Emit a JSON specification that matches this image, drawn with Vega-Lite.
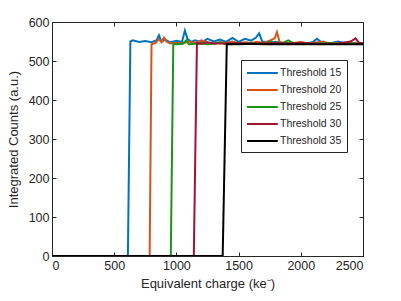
{
  "$schema": "https://vega.github.io/schema/vega-lite/v6.json",
  "width": 311,
  "height": 234,
  "autosize": {"type": "none"},
  "padding": {"left": 52, "top": 22, "right": 38, "bottom": 45},
  "background": "white",
  "config": {
    "font": "Liberation Sans",
    "view": {"stroke": "#262626", "strokeWidth": 1},
    "axis": {
      "labelFont": "Liberation Sans",
      "titleFont": "Liberation Sans",
      "labelFontSize": 12.5,
      "titleFontSize": 13,
      "titleFontWeight": "normal",
      "labelColor": "#262626",
      "titleColor": "#262626",
      "domainColor": "#262626",
      "tickColor": "#262626",
      "gridColor": "#e3e3e3",
      "gridWidth": 1
    }
  },
  "data": {
    "values": [
      {"s": "Threshold 15", "x": 0, "y": 0},
      {"s": "Threshold 15", "x": 610, "y": 0},
      {"s": "Threshold 15", "x": 630, "y": 550},
      {"s": "Threshold 15", "x": 650, "y": 553},
      {"s": "Threshold 15", "x": 700, "y": 549},
      {"s": "Threshold 15", "x": 750, "y": 551},
      {"s": "Threshold 15", "x": 800, "y": 548},
      {"s": "Threshold 15", "x": 840, "y": 553},
      {"s": "Threshold 15", "x": 860, "y": 566},
      {"s": "Threshold 15", "x": 880, "y": 550},
      {"s": "Threshold 15", "x": 910, "y": 555},
      {"s": "Threshold 15", "x": 950, "y": 548},
      {"s": "Threshold 15", "x": 1000, "y": 552},
      {"s": "Threshold 15", "x": 1045, "y": 549},
      {"s": "Threshold 15", "x": 1068, "y": 578},
      {"s": "Threshold 15", "x": 1090, "y": 556},
      {"s": "Threshold 15", "x": 1120, "y": 549},
      {"s": "Threshold 15", "x": 1150, "y": 553},
      {"s": "Threshold 15", "x": 1200, "y": 548},
      {"s": "Threshold 15", "x": 1250, "y": 557},
      {"s": "Threshold 15", "x": 1300, "y": 550},
      {"s": "Threshold 15", "x": 1350, "y": 555},
      {"s": "Threshold 15", "x": 1400, "y": 549},
      {"s": "Threshold 15", "x": 1450, "y": 559},
      {"s": "Threshold 15", "x": 1500, "y": 549},
      {"s": "Threshold 15", "x": 1550, "y": 557},
      {"s": "Threshold 15", "x": 1600, "y": 552},
      {"s": "Threshold 15", "x": 1640, "y": 560},
      {"s": "Threshold 15", "x": 1665, "y": 571},
      {"s": "Threshold 15", "x": 1690, "y": 550},
      {"s": "Threshold 15", "x": 1750, "y": 548},
      {"s": "Threshold 15", "x": 1800, "y": 549},
      {"s": "Threshold 15", "x": 1850, "y": 547},
      {"s": "Threshold 15", "x": 1900, "y": 546},
      {"s": "Threshold 15", "x": 1950, "y": 545},
      {"s": "Threshold 15", "x": 2000, "y": 547},
      {"s": "Threshold 15", "x": 2050, "y": 545},
      {"s": "Threshold 15", "x": 2100, "y": 549},
      {"s": "Threshold 15", "x": 2130, "y": 557},
      {"s": "Threshold 15", "x": 2170, "y": 547},
      {"s": "Threshold 15", "x": 2250, "y": 546},
      {"s": "Threshold 15", "x": 2300, "y": 550},
      {"s": "Threshold 15", "x": 2350, "y": 546},
      {"s": "Threshold 15", "x": 2400, "y": 545},
      {"s": "Threshold 15", "x": 2450, "y": 547},
      {"s": "Threshold 15", "x": 2500, "y": 546},

      {"s": "Threshold 20", "x": 0, "y": 0},
      {"s": "Threshold 20", "x": 785, "y": 0},
      {"s": "Threshold 20", "x": 800, "y": 543},
      {"s": "Threshold 20", "x": 830, "y": 546},
      {"s": "Threshold 20", "x": 860, "y": 556},
      {"s": "Threshold 20", "x": 880, "y": 548},
      {"s": "Threshold 20", "x": 900, "y": 560},
      {"s": "Threshold 20", "x": 920, "y": 550},
      {"s": "Threshold 20", "x": 950, "y": 545},
      {"s": "Threshold 20", "x": 1000, "y": 547},
      {"s": "Threshold 20", "x": 1050, "y": 545},
      {"s": "Threshold 20", "x": 1100, "y": 550},
      {"s": "Threshold 20", "x": 1150, "y": 546},
      {"s": "Threshold 20", "x": 1200, "y": 553},
      {"s": "Threshold 20", "x": 1250, "y": 547},
      {"s": "Threshold 20", "x": 1300, "y": 545},
      {"s": "Threshold 20", "x": 1350, "y": 548},
      {"s": "Threshold 20", "x": 1400, "y": 546},
      {"s": "Threshold 20", "x": 1450, "y": 550},
      {"s": "Threshold 20", "x": 1500, "y": 545},
      {"s": "Threshold 20", "x": 1550, "y": 548},
      {"s": "Threshold 20", "x": 1600, "y": 546},
      {"s": "Threshold 20", "x": 1650, "y": 549},
      {"s": "Threshold 20", "x": 1700, "y": 546},
      {"s": "Threshold 20", "x": 1750, "y": 552},
      {"s": "Threshold 20", "x": 1790, "y": 558},
      {"s": "Threshold 20", "x": 1808, "y": 574},
      {"s": "Threshold 20", "x": 1830, "y": 548},
      {"s": "Threshold 20", "x": 1900, "y": 545},
      {"s": "Threshold 20", "x": 1950, "y": 546},
      {"s": "Threshold 20", "x": 2000, "y": 549},
      {"s": "Threshold 20", "x": 2050, "y": 545},
      {"s": "Threshold 20", "x": 2100, "y": 546},
      {"s": "Threshold 20", "x": 2180, "y": 550},
      {"s": "Threshold 20", "x": 2220, "y": 545},
      {"s": "Threshold 20", "x": 2300, "y": 546},
      {"s": "Threshold 20", "x": 2400, "y": 546},
      {"s": "Threshold 20", "x": 2500, "y": 545},

      {"s": "Threshold 25", "x": 0, "y": 0},
      {"s": "Threshold 25", "x": 955, "y": 0},
      {"s": "Threshold 25", "x": 975, "y": 545},
      {"s": "Threshold 25", "x": 1000, "y": 543},
      {"s": "Threshold 25", "x": 1050, "y": 544},
      {"s": "Threshold 25", "x": 1080, "y": 553},
      {"s": "Threshold 25", "x": 1100, "y": 543},
      {"s": "Threshold 25", "x": 1150, "y": 544},
      {"s": "Threshold 25", "x": 1200, "y": 545},
      {"s": "Threshold 25", "x": 1250, "y": 543},
      {"s": "Threshold 25", "x": 1300, "y": 544},
      {"s": "Threshold 25", "x": 1350, "y": 548},
      {"s": "Threshold 25", "x": 1400, "y": 543},
      {"s": "Threshold 25", "x": 1500, "y": 544},
      {"s": "Threshold 25", "x": 1600, "y": 545},
      {"s": "Threshold 25", "x": 1700, "y": 544},
      {"s": "Threshold 25", "x": 1760, "y": 550},
      {"s": "Threshold 25", "x": 1800, "y": 544},
      {"s": "Threshold 25", "x": 1850, "y": 546},
      {"s": "Threshold 25", "x": 1900, "y": 553},
      {"s": "Threshold 25", "x": 1950, "y": 544},
      {"s": "Threshold 25", "x": 2000, "y": 545},
      {"s": "Threshold 25", "x": 2100, "y": 544},
      {"s": "Threshold 25", "x": 2200, "y": 546},
      {"s": "Threshold 25", "x": 2300, "y": 544},
      {"s": "Threshold 25", "x": 2400, "y": 545},
      {"s": "Threshold 25", "x": 2500, "y": 544},

      {"s": "Threshold 30", "x": 0, "y": 0},
      {"s": "Threshold 30", "x": 1140, "y": 0},
      {"s": "Threshold 30", "x": 1165, "y": 546},
      {"s": "Threshold 30", "x": 1200, "y": 544},
      {"s": "Threshold 30", "x": 1250, "y": 548},
      {"s": "Threshold 30", "x": 1300, "y": 545},
      {"s": "Threshold 30", "x": 1400, "y": 545},
      {"s": "Threshold 30", "x": 1500, "y": 546},
      {"s": "Threshold 30", "x": 1600, "y": 544},
      {"s": "Threshold 30", "x": 1700, "y": 545},
      {"s": "Threshold 30", "x": 1800, "y": 546},
      {"s": "Threshold 30", "x": 1900, "y": 545},
      {"s": "Threshold 30", "x": 2000, "y": 546},
      {"s": "Threshold 30", "x": 2100, "y": 545},
      {"s": "Threshold 30", "x": 2200, "y": 544},
      {"s": "Threshold 30", "x": 2300, "y": 545},
      {"s": "Threshold 30", "x": 2400, "y": 550},
      {"s": "Threshold 30", "x": 2440, "y": 558},
      {"s": "Threshold 30", "x": 2470, "y": 546},
      {"s": "Threshold 30", "x": 2500, "y": 545},

      {"s": "Threshold 35", "x": 0, "y": 0},
      {"s": "Threshold 35", "x": 1372, "y": 0},
      {"s": "Threshold 35", "x": 1405, "y": 543},
      {"s": "Threshold 35", "x": 1500, "y": 543},
      {"s": "Threshold 35", "x": 1600, "y": 544},
      {"s": "Threshold 35", "x": 1700, "y": 543},
      {"s": "Threshold 35", "x": 1800, "y": 543},
      {"s": "Threshold 35", "x": 1900, "y": 543},
      {"s": "Threshold 35", "x": 2000, "y": 543},
      {"s": "Threshold 35", "x": 2100, "y": 543},
      {"s": "Threshold 35", "x": 2200, "y": 543},
      {"s": "Threshold 35", "x": 2300, "y": 543},
      {"s": "Threshold 35", "x": 2400, "y": 543},
      {"s": "Threshold 35", "x": 2500, "y": 543}
    ]
  },
  "layer": [
    {
      "mark": {"type": "point", "opacity": 0},
      "encoding": {
        "x": {
          "field": "x", "type": "quantitative",
          "scale": {"domain": [0, 2500], "nice": false},
          "axis": {"orient": "top", "title": null, "labels": false, "grid": false, "domain": false, "values": [0, 500, 1000, 1500, 2000, 2500], "tickSize": -4}
        },
        "y": {
          "field": "y", "type": "quantitative",
          "scale": {"domain": [0, 600], "nice": false},
          "axis": {"orient": "right", "title": null, "labels": false, "grid": false, "domain": false, "values": [0, 100, 200, 300, 400, 500, 600], "tickSize": -4}
        }
      }
    },
    {
      "mark": {"type": "line", "strokeWidth": 2, "clip": true},
      "encoding": {
        "x": {
          "field": "x", "type": "quantitative",
          "scale": {"domain": [0, 2500], "nice": false},
          "axis": {"orient": "bottom", "title": "Equivalent charge (ke⁻)", "format": "d", "values": [0, 500, 1000, 1500, 2000, 2500], "tickSize": -4, "labelPadding": 7, "titlePadding": 6}
        },
        "y": {
          "field": "y", "type": "quantitative",
          "scale": {"domain": [0, 600], "nice": false},
          "axis": {"orient": "left", "title": "Integrated Counts (a.u.)", "format": "d", "values": [0, 100, 200, 300, 400, 500, 600], "tickSize": -4, "labelPadding": 7, "titlePadding": 8}
        },
        "color": {
          "field": "s", "type": "nominal",
          "scale": {"domain": ["Threshold 15", "Threshold 20", "Threshold 25", "Threshold 30", "Threshold 35"], "range": ["#0072BD", "#D95319", "#189418", "#A2142F", "#000000"]},
          "legend": {
            "title": null,
            "orient": "none",
            "legendX": 189,
            "legendY": 38,
            "symbolType": "M-1,0H3.4",
            "symbolSize": 196,
            "symbolStrokeWidth": 2,
            "labelFont": "Liberation Sans",
            "labelFontSize": 10.5,
            "labelColor": "#262626",
            "labelOffset": 18,
            "rowPadding": 3,
            "padding": 5,
            "fillColor": "white",
            "strokeColor": "#262626"
          }
        }
      }
    }
  ],
  "resolve": {"axis": {"x": "independent", "y": "independent"}}
}
